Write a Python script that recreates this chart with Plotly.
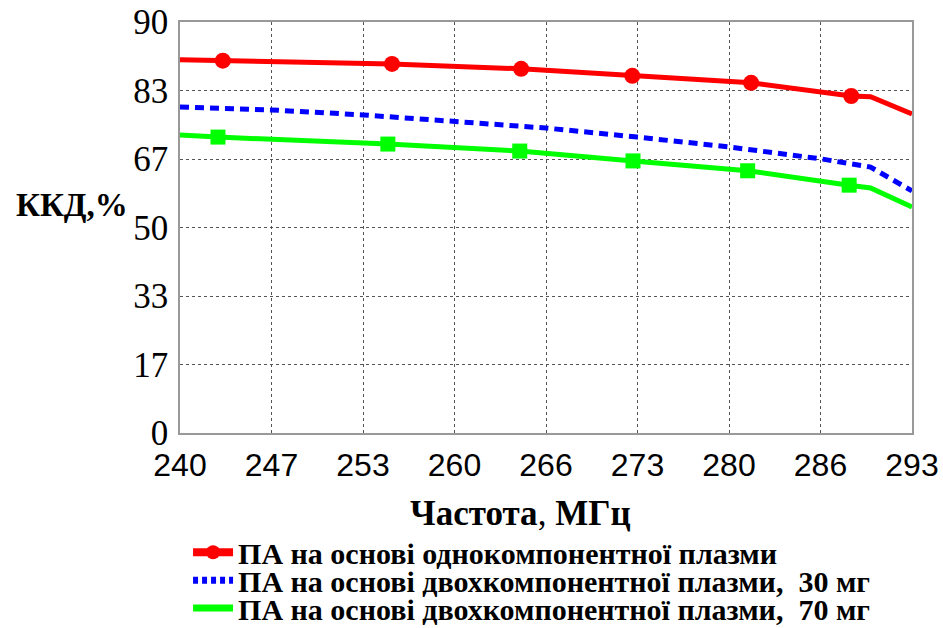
import plotly.graph_objects as go

# Frequency axis (MHz) and efficiency (%) for the three amplifier variants
freq_single = [240.0, 243.1, 255.35, 264.7, 272.75, 281.35, 288.6, 290.0, 293.0]
eff_single = [90.8, 90.6, 89.8, 88.6, 86.9, 85.2, 82.0, 81.8, 77.6]
marker_idx_single = [1, 2, 3, 4, 5, 6]

freq_30 = [240.0, 246.6, 253.25, 259.9, 266.5, 273.1, 279.75, 286.4, 290.0, 293.0]
eff_30 = [79.3, 78.6, 77.4, 75.9, 74.2, 72.0, 69.6, 66.7, 64.7, 58.9]

freq_70 = [240.0, 242.75, 255.05, 264.6, 272.8, 281.1, 288.45, 290.0, 293.0]
eff_70 = [72.5, 72.0, 70.3, 68.6, 66.2, 63.8, 60.3, 59.6, 55.0]
marker_idx_70 = [1, 2, 3, 4, 5, 6]

x_tickvals = [240 + i * 53 / 8 for i in range(9)]
x_ticktext = ["240", "247", "253", "260", "266", "273", "280", "286", "293"]
y_tickvals = [i * 100 / 6 for i in range(7)]
y_ticktext = ["0", "17", "33", "50", "67", "83", "90"]

names = [
    "ПА на основі однокомпонентної плазми",
    "ПА на основі двохкомпонентної плазми,  30 мг",
    "ПА на основі двохкомпонентної плазми,  70 мг",
]

RED, BLUE, GREEN = "#ff0000", "#0000ff", "#00ff00"

fig = go.Figure()

# curves
fig.add_trace(go.Scatter(x=freq_30, y=eff_30, mode="lines", showlegend=False,
                         line=dict(color=BLUE, width=5, dash="9px,6px")))
fig.add_trace(go.Scatter(x=freq_70, y=eff_70, mode="lines", showlegend=False,
                         line=dict(color=GREEN, width=5)))
fig.add_trace(go.Scatter(x=[freq_70[i] for i in marker_idx_70],
                         y=[eff_70[i] for i in marker_idx_70],
                         mode="markers", showlegend=False,
                         marker=dict(symbol="square", size=15, color=GREEN)))
fig.add_trace(go.Scatter(x=freq_single, y=eff_single, mode="lines", showlegend=False,
                         line=dict(color=RED, width=5)))
fig.add_trace(go.Scatter(x=[freq_single[i] for i in marker_idx_single],
                         y=[eff_single[i] for i in marker_idx_single],
                         mode="markers", showlegend=False,
                         marker=dict(symbol="circle", size=16, color=RED)))

# legend entries, one legend per row so rows can sit tightly together
fig.add_trace(go.Scatter(x=[None], y=[None], mode="lines+markers", name=names[0],
                         legend="legend",
                         line=dict(color=RED, width=8),
                         marker=dict(symbol="circle", size=14, color=RED)))
fig.add_trace(go.Scatter(x=[None], y=[None], mode="lines", name=names[1],
                         legend="legend2",
                         line=dict(color=BLUE, width=7, dash="5px,4px")))
fig.add_trace(go.Scatter(x=[None], y=[None], mode="lines", name=names[2],
                         legend="legend3",
                         line=dict(color=GREEN, width=7)))

fig.update_xaxes(range=[240, 293], tickvals=x_tickvals, ticktext=x_ticktext,
                 tickfont=dict(family="Liberation Sans", size=32, color="black"),
                 showgrid=True, gridcolor="#555555", gridwidth=1, griddash="dot",
                 showline=True, linecolor="#999999", linewidth=1.5, mirror=True,
                 ticks="", zeroline=False, ticklabelstandoff=3)
fig.update_yaxes(range=[0, 100], tickvals=y_tickvals, ticktext=y_ticktext,
                 tickfont=dict(family="Liberation Serif", size=35, color="black"),
                 showgrid=True, gridcolor="#555555", gridwidth=1, griddash="dot",
                 showline=True, linecolor="#999999", linewidth=1.5, mirror=True,
                 ticks="", zeroline=False, ticklabelstandoff=3)

fig.add_annotation(text="<b>ККД,%</b>", xref="paper", yref="paper",
                   x=-0.1475, y=0.555, xanchor="center", yanchor="middle",
                   showarrow=False,
                   font=dict(family="Liberation Serif", size=33, color="black"))
fig.add_annotation(text="<b>Частота</b>, <b>МГц</b>", xref="paper", yref="paper",
                   x=0.4645, y=-0.197, xanchor="center", yanchor="middle",
                   showarrow=False,
                   font=dict(family="Liberation Serif", size=35, color="black"))

legend_style = dict(x=0.011, xanchor="left", yanchor="middle",
                    itemwidth=40, bgcolor="rgba(0,0,0,0)",
                    font=dict(family="Liberation Serif", size=30, color="black",
                              weight="bold"))

fig.update_layout(
    width=943, height=628,
    margin=dict(l=180, r=31, t=22, b=195, autoexpand=False),
    paper_bgcolor="white", plot_bgcolor="white",
    legend=dict(y=-0.290, **legend_style),
    legend2=dict(y=-0.358, **legend_style),
    legend3=dict(y=-0.426, **legend_style),
)

fig.write_html("out.html")
